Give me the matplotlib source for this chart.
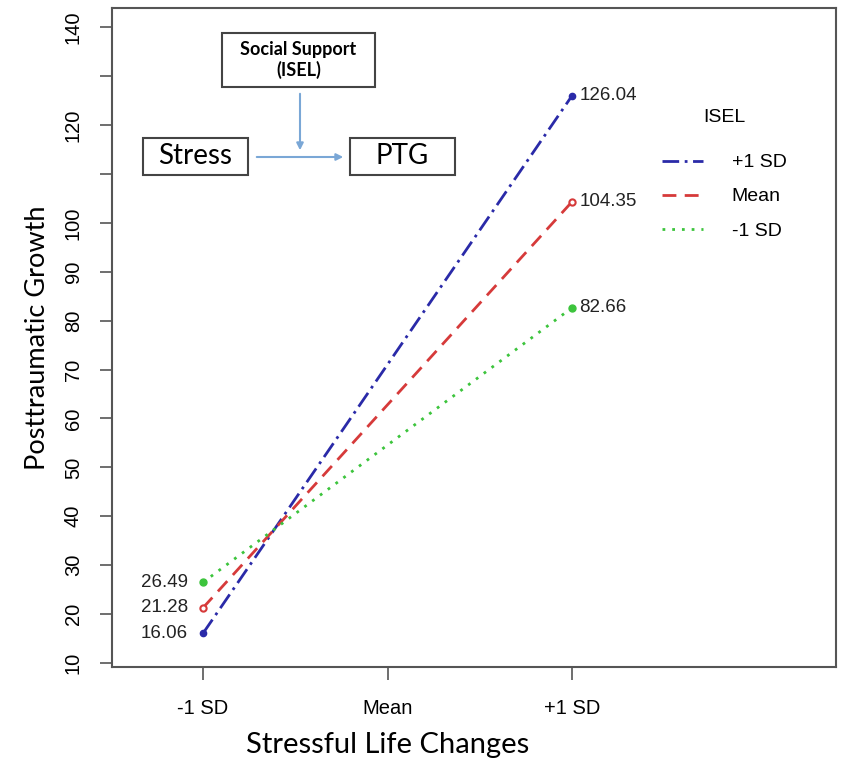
import matplotlib
matplotlib.use('Agg')
import matplotlib.pyplot as plt
from matplotlib.patches import Rectangle, FancyArrowPatch
from matplotlib.lines import Line2D

# simple slopes of stress on PTG at three levels of ISEL
levels = ['-1 SD', 'Mean', '+1 SD']
x_pos = [1, 2, 3]
plus_sd = [16.06, 126.04]
mean_sd = [21.28, 104.35]
minus_sd = [26.49, 82.66]
y_ticks = [10, 20, 30, 40, 50, 60, 70, 80, 90, 100, 110, 120, 130, 140]
y_labels = ['10', '20', '30', '40', '50', '60', '70', '80', '90', '100', '', '120', '', '140']

tick_font = 'Liberation Sans'
title_font = 'Lato'

fig = plt.figure(figsize=(8.42, 7.71), dpi=100)
ax = fig.add_axes([0.133, 0.135, 0.860, 0.855])

styles = {
    '+1 SD': dict(color='#2a2aa8', linestyle=(0, (6, 2, 1, 2))),
    'Mean': dict(color='#d63a3a', linestyle=(0, (5, 3))),
    '-1 SD': dict(color='#3cc43c', linestyle=(0, (1, 2.5))),
}

ends = [x_pos[0], x_pos[2]]
ax.plot(ends, plus_sd, lw=2, marker='o', ms=4.5, **styles['+1 SD'])
ax.plot(ends, mean_sd, lw=2, marker='o', ms=4.5, mfc='white', mew=1.5, **styles['Mean'])
ax.plot(ends, minus_sd, lw=2, marker='o', ms=5, **styles['-1 SD'])

for vals in [plus_sd, mean_sd, minus_sd]:
    ax.text(ends[0] - 0.08, vals[0], '%.2f' % vals[0], ha='right', va='center',
            fontsize=13.5, family=tick_font, color='#222222')
    ax.text(ends[1] + 0.04, vals[1], '%.2f' % vals[1], ha='left', va='center',
            fontsize=13.5, family=tick_font, color='#222222')

ax.set_xlim(0.507, 4.43)
ax.set_ylim(9.2, 144)
ax.set_xticks(x_pos)
ax.set_xticklabels(levels, family=tick_font, fontsize=14.5)
ax.set_yticks(y_ticks)
ax.set_yticklabels(y_labels, family=tick_font, fontsize=14.5, rotation=90, va='center')
ax.tick_params(direction='out', length=9, width=1.2, color='#555555')
ax.tick_params(axis='x', pad=14)
ax.tick_params(axis='y', pad=12)
for s in ax.spines.values():
    s.set_color('#555555')
    s.set_linewidth(1.5)

ax.set_ylabel('Posttraumatic Growth', family=title_font, fontsize=19.5, labelpad=10)
ax.text(2, -0.118, 'Stressful Life Changes', transform=ax.get_xaxis_transform(),
        ha='center', va='center', family=title_font, fontsize=21)

handles = [Line2D([], [], lw=2, **styles[k]) for k in ['+1 SD', 'Mean', '-1 SD']]
leg = ax.legend(handles, ['+1 SD', 'Mean', '-1 SD'], loc='upper left',
                bbox_to_anchor=(0.735, 0.873), frameon=False, title='ISEL',
                fontsize=14, handlelength=2.1, labelspacing=0.85, handletextpad=1.5)
plt.setp(leg.get_title(), family=tick_font, fontsize=14)
leg._legend_box.sep = 20
for t in leg.get_texts():
    t.set_family(tick_font)

# conceptual model inset (figure pixel coords)
W, H = 842.0, 771.0

def box(x0, y0, x1, y1, text, size, weight='normal'):
    fig.patches.append(Rectangle((x0 / W, 1 - y1 / H), (x1 - x0) / W, (y1 - y0) / H,
                                 transform=fig.transFigure, fill=False,
                                 edgecolor='#444444', lw=1.5))
    fig.text((x0 + x1) / 2 / W, 1 - (y0 + y1) / 2 / H, text, ha='center', va='center',
             family=title_font, fontsize=size, weight=weight, linespacing=1.25)

box(222, 33, 375, 87, 'Social Support\n(ISEL)', 13, 'bold')
box(143, 138, 248, 175, 'Stress', 20)
box(350, 138, 455, 175, 'PTG', 20)

arrow_col = '#7aa7d6'
fig.patches.append(FancyArrowPatch((300 / W, 1 - 91 / H), (300 / W, 1 - 153 / H),
                                   transform=fig.transFigure, arrowstyle='-|>',
                                   mutation_scale=10, color=arrow_col, lw=1.5))
fig.patches.append(FancyArrowPatch((254 / W, 1 - 157 / H), (346 / W, 1 - 157 / H),
                                   transform=fig.transFigure, arrowstyle='-|>',
                                   mutation_scale=10, color=arrow_col, lw=1.5))

fig.savefig('out.png', dpi=100)
